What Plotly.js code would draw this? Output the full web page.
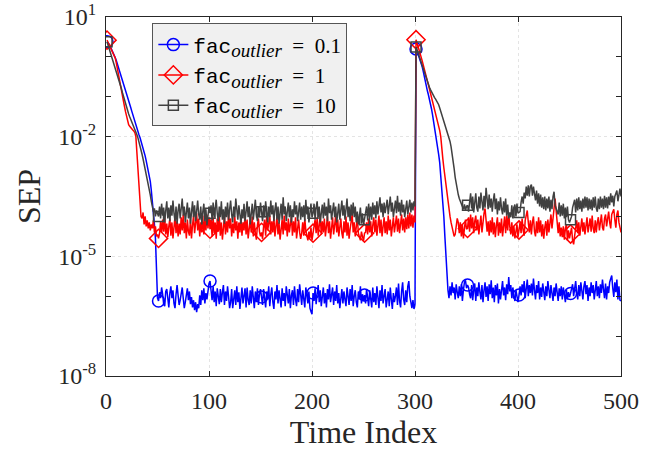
<!DOCTYPE html>
<html>
<head>
<meta charset="utf-8">
<script src="https://cdn.plot.ly/plotly-3.0.1.min.js"></script>
<style>html,body{margin:0;padding:0;background:#fff;}#chart{width:659px;height:450px;}</style>
</head>
<body>
<div id="chart"></div>
<script>
// Series values stored as log10(SEP), time index 1..500
const blueLogSEP = [
0.38,0.36,0.32,0.27,0.22,0.16,0.10,0.04,-0.02,-0.09,
-0.17,-0.25,-0.33,-0.42,-0.50,-0.58,-0.66,-0.74,-0.82,-0.92,
-1.0,-1.08,-1.17,-1.27,-1.36,-1.45,-1.55,-1.64,-1.72,-1.80,
-1.88,-1.95,-2.02,-2.10,-2.18,-2.28,-2.38,-2.48,-2.60,-2.72,
-2.85,-2.98,-3.12,-3.35,-3.6,-3.88,-4.2,-4.55,-5.3,-6.05,
-6.12,-5.9,-6.05,-5.78,-5.95,-6.2,-6.25,-5.88,-5.82,-6.15,
-6.28,-5.92,-5.75,-6.05,-5.85,-6.18,-6.3,-5.95,-5.72,-5.98,
-6.22,-6.1,-5.85,-5.78,-6.05,-6.3,-6.15,-5.9,-5.8,-6.1,
-5.88,-6.2,-6.02,-6.28,-6.1,-6.35,-6.15,-6.4,-6.2,-6.3,
-5.98,-6.22,-5.85,-6.1,-5.8,-6.18,-5.92,-6.08,-5.78,-5.68,
-5.62,-5.8,-6.1,-5.75,-6.15,-5.88,-6.25,-5.8,-5.95,-6.2,
-5.82,-6.15,-5.9,-5.72,-6.22,-5.88,-6.12,-5.75,-6.0,-6.3,
-6.15,-5.82,-6.3,-5.98,-5.85,-6.22,-5.75,-6.15,-5.9,-6.32,
-6.05,-5.78,-6.18,-5.98,-5.8,-6.28,-5.78,-6.1,-6.22,-5.85,
-6.18,-5.75,-6.05,-6.3,-5.88,-6.15,-5.8,-6.22,-5.95,-5.82,
-6.02,-6.22,-5.82,-6.12,-6.28,-5.88,-6.08,-5.75,-6.25,-5.95,
-5.78,-6.15,-6.32,-5.88,-6.08,-5.72,-6.18,-5.85,-6.02,-6.28,
-5.8,-6.12,-5.92,-6.25,-5.75,-6.02,-6.18,-5.82,-6.3,-5.98,
-5.85,-6.22,-5.75,-6.08,-6.25,-5.82,-6.15,-5.7,-6.0,-6.22,
-5.85,-6.08,-6.28,-5.78,-6.02,-6.18,-5.88,-6.3,-6.38,-6.45,
-5.92,-6.12,-5.8,-6.2,-5.95,-5.72,-6.15,-5.85,-6.25,-5.98,
-5.78,-6.18,-5.92,-6.28,-5.82,-6.08,-5.7,-6.15,-6.0,-5.78,
-6.22,-5.88,-6.12,-5.72,-6.18,-5.92,-6.3,-6.0,-5.82,-6.18,
-5.88,-6.08,-6.25,-5.78,-6.02,-6.22,-5.82,-6.12,-5.72,-6.25,
-6.0,-5.85,-6.15,-6.28,-5.88,-6.08,-5.75,-6.18,-5.95,-6.12,
-5.97,-6.18,-5.82,-6.08,-6.25,-5.85,-6.02,-6.28,-5.78,-6.15,
-5.92,-6.22,-5.75,-6.08,-6.3,-5.85,-6.12,-5.72,-6.18,-6.0,
-5.82,-6.28,-6.08,-5.88,-6.25,-5.78,-6.08,-6.32,-5.92,-6.15,
-6.0,-5.78,-6.22,-5.68,-6.12,-6.28,-5.88,-5.65,-6.08,-6.22,
-5.85,-6.15,-5.75,-5.62,-6.0,-6.18,-6.3,-6.1,-6.32,-6.2,
0.2,0.15,0.08,0.0,-0.08,-0.16,-0.25,-0.36,-0.5,-0.65,
-0.75,-0.85,-0.95,-1.05,-1.15,-1.3,-1.45,-1.6,-1.75,-1.9,
-2.05,-2.25,-2.45,-2.65,-2.95,-3.3,-3.65,-4.0,-4.5,-5.0,
-5.5,-5.85,
-6.05,-5.75,-5.98,-5.65,-5.92,-5.78,-6.08,-5.7,-5.9,-6.05,
-5.75,-6.0,-5.7,-6.12,-5.85,-5.65,-5.6,-5.8,-5.72,-5.78,
-5.95,-6.05,-5.72,-6.1,-5.85,-5.68,-6.12,-5.78,-6.0,-5.65,
-5.9,-6.08,-5.72,-6.15,-5.85,-5.65,-6.02,-5.75,-6.12,-5.7,
-5.95,-5.6,-6.05,-5.78,-6.15,-5.72,-5.98,-5.68,-6.18,-5.82,
-6.08,-5.75,-5.62,-5.98,-5.78,-6.1,-5.7,-5.95,-5.52,-5.88,
-5.72,-6.05,-5.78,-5.98,-6.12,-5.85,-6.05,-6.15,-5.97,-5.75,
-5.98,-5.7,-5.9,-5.62,-6.05,-5.78,-5.58,-6.0,-5.72,-5.92,
-5.68,-5.98,-5.56,-5.85,-6.08,-5.72,-5.92,-5.62,-6.08,-5.78,
-6.02,-5.68,-5.9,-6.1,-5.75,-6.0,-5.62,-5.88,-6.05,-5.72,
-5.92,-6.12,-5.78,-6.0,-5.68,-5.95,-6.12,-5.8,-6.0,-5.75,
-6.08,-5.78,-6.0,-6.15,-5.84,-6.08,-5.9,-6.02,-5.93,-5.82,
-5.7,-6.0,-5.78,-5.62,-5.92,-6.08,-5.72,-6.0,-5.65,-5.9,
-6.08,-5.75,-5.62,-5.95,-5.72,-6.12,-5.78,-6.0,-5.65,-5.92,
-5.72,-6.08,-5.8,-5.62,-6.0,-5.75,-6.05,-5.7,-5.92,-5.58,
-5.82,-6.05,-5.68,-6.08,-5.75,-5.92,-5.65,-5.55,-5.48,-5.8,
-6.02,-5.65,-5.9,-5.58,-6.08,-5.75,-6.1,-6.12
];

const redLogSEP = [
0.42,0.36,0.3,0.25,0.2,0.14,0.08,0.03,-0.03,-0.15,
-0.3,-0.45,-0.6,-0.75,-0.88,-1.0,-1.12,-1.25,-1.38,-1.5,
-1.62,-1.7,-1.74,-1.78,-1.8,-1.83,-1.86,-1.9,-2.0,-2.4,
-2.9,-3.35,-3.75,-4.0,-4.05,-3.9,-4.2,-4.0,-4.25,-4.1,
-4.3,-4.15,-4.35,-4.2,-4.3,-4.1,-4.4,-4.25,-4.5,-4.45,
-4.55,-4.42,-4.12,-4.4,-4.08,-4.38,-4.02,-4.45,-4.18,-4.52,
-4.25,-4.05,-4.48,-4.15,-4.55,-4.3,-4.0,-4.42,-4.12,-4.5,
-4.18,-4.45,-4.02,-4.35,-3.95,-4.42,-4.15,-4.55,-4.08,-4.38,
-4.48,-4.08,-4.55,-4.22,-3.98,-4.42,-4.15,-3.92,-4.35,-4.05,
-4.5,-4.15,-4.4,-3.98,-4.45,-4.1,-4.35,-3.95,-4.3,-4.02,
-4.32,-4.08,-4.5,-4.02,-4.42,-4.15,-4.56,-4.05,-4.38,-3.98,
-4.48,-4.15,-4.58,-4.22,-4.0,-4.45,-4.12,-4.4,-3.92,-4.3,
-4.05,-4.5,-4.18,-4.42,-4.0,-4.35,-4.12,-4.56,-4.15,-4.4,
-4.02,-4.48,-4.15,-4.35,-3.98,-4.45,-4.08,-4.55,-4.22,-4.08,
-4.4,-4.0,-4.5,-4.15,-4.42,-4.58,-4.22,-4.05,-4.38,-4.5,
-4.4,-4.56,-4.25,-4.08,-4.48,-4.0,-4.35,-4.15,-3.98,-4.45,
-4.12,-4.4,-4.02,-4.5,-4.22,-4.0,-4.45,-4.15,-4.58,-4.3,
-4.08,-4.45,-3.98,-4.35,-4.15,-4.5,-4.05,-4.4,-4.22,-4.0,
-4.48,-4.12,-4.4,-4.02,-4.55,-4.22,-4.08,-4.4,-4.56,-4.42,
-4.15,-4.48,-4.05,-4.35,-4.5,-4.6,-4.38,-4.55,-4.28,-4.6,
-4.42,-4.28,-4.08,-4.42,-4.02,-4.48,-4.18,-3.98,-4.45,-4.12,
-4.4,-4.05,-4.5,-4.22,-4.0,-4.42,-4.12,-4.56,-4.3,-4.02,
-4.45,-4.15,-3.98,-4.4,-4.08,-4.5,-4.25,-4.05,-4.42,-4.55,
-4.12,-4.4,-4.0,-4.48,-4.15,-4.56,-4.32,-4.08,-3.95,-4.4,
-4.15,-4.5,-4.28,-4.02,-4.42,-4.55,-4.6,-4.38,-4.56,-4.62,
-4.42,-4.4,-4.15,-4.45,-4.05,-4.4,-4.12,-4.5,-4.22,-4.02,
-4.4,-4.08,-4.48,-4.15,-3.98,-4.42,-4.08,-4.5,-4.22,-4.02,
-4.42,-4.12,-4.45,-3.98,-4.35,-4.08,-4.5,-4.18,-4.02,-4.4,
-4.15,-3.98,-4.38,-4.05,-4.42,-4.12,-3.95,-4.35,-4.05,-4.4,
-4.02,-4.32,-3.95,-4.3,-3.9,-4.25,-3.95,-4.28,-3.98,-4.15,
0.43,0.35,0.27,0.18,0.09,0.0,-0.1,-0.2,-0.32,-0.44,
-0.52,-0.6,-0.7,-0.8,-0.92,-1.03,-1.12,-1.22,-1.32,-1.42,
-1.52,-1.62,-1.72,-1.85,-2.0,-2.35,-2.55,-2.78,-3.0,-3.25,
-3.45,-3.65,-3.85,-4.0,-4.15,-4.25,-4.4,-4.5,-4.45,-4.2,
-4.05,-4.15,
-4.42,-4.15,-4.5,-4.2,-4.55,-4.3,-4.08,-4.32,-4.3,-4.02,
-4.38,-3.95,-4.3,-4.02,-4.42,-4.12,-3.98,-4.35,-4.08,-4.45,
-4.18,-3.98,-4.4,-4.08,-3.92,-3.8,-4.05,-4.38,-4.12,-4.48,
-4.1,-4.4,-4.02,-4.45,-4.15,-4.52,-4.22,-4.02,-4.48,-4.15,
-4.42,-4.05,-4.5,-4.2,-4.0,-4.42,-3.98,-4.35,-3.92,-4.25,
-4.45,-4.15,-4.5,-4.25,-4.55,-4.38,-4.2,-4.52,-4.34,-4.15,
-4.42,-4.05,-4.35,-4.48,-4.1,-3.98,-3.85,-4.15,-4.4,-4.1,
-4.45,-4.15,-4.0,-4.38,-4.5,-4.12,-4.42,-4.02,-4.4,-4.1,
-4.5,-4.2,-4.56,-4.28,-4.12,-4.48,-4.08,-4.4,-4.05,-3.95,
-4.3,-4.0,-3.8,-3.55,-3.85,-4.15,-4.42,-4.15,-4.5,-4.28,
-4.52,-4.25,-4.58,-4.3,-4.2,-4.6,-4.35,-4.55,-4.44,-4.28,
-4.6,-4.7,-4.48,-4.28,-4.1,-4.42,-4.15,-4.48,-4.2,-4.05,
-4.38,-4.15,-4.45,-4.2,-4.02,-4.4,-4.18,-4.05,-4.38,-3.98,
-4.3,-4.42,-4.1,-4.4,-4.15,-4.02,-4.35,-4.12,-3.95,-4.28,
-4.35,-4.05,-3.95,-4.25,-4.0,-3.88,-4.15,-4.3,-3.95,-3.9,
-3.82,-4.08,-4.28,-3.95,-3.85,-4.15,-4.32,-4.4
];

const grayLogSEP = [
0.38,0.3,0.22,0.14,0.06,-0.02,-0.1,-0.18,-0.26,-0.35,
-0.44,-0.53,-0.62,-0.71,-0.8,-0.9,-1.0,-1.08,-1.18,-1.28,
-1.36,-1.43,-1.5,-1.56,-1.62,-1.68,-1.74,-1.8,-1.87,-1.95,
-2.03,-2.12,-2.22,-2.33,-2.44,-2.56,-2.68,-2.8,-2.93,-3.05,
-3.18,-3.32,-3.46,-3.62,-3.76,-3.88,-3.8,-4.0,-3.85,-3.95,
-4.0,-3.75,-4.05,-3.68,-3.98,-3.78,-4.15,-3.85,-3.62,-4.05,
-3.78,-4.12,-3.72,-3.98,-3.6,-3.92,-4.12,-3.75,-4.18,-3.85,
-3.68,-4.05,-3.82,-3.55,-3.98,-3.75,-4.15,-3.88,-3.65,-4.05,
-3.78,-4.18,-3.88,-3.62,-4.02,-3.72,-4.12,-3.82,-3.6,-3.95,
-4.08,-3.75,-4.2,-3.88,-3.68,-4.12,-3.82,-4.22,-3.95,-3.75,
-3.92,-3.72,-4.1,-3.65,-4.02,-3.82,-3.58,-3.92,-4.12,-3.75,
-4.02,-3.62,-4.08,-3.82,-4.18,-3.75,-4.02,-3.65,-4.08,-3.82,
-3.6,-3.95,-4.15,-3.75,-4.02,-3.55,-3.88,-4.08,-3.72,-3.98,
-4.18,-3.82,-4.05,-3.68,-4.12,-3.88,-3.62,-4.02,-3.75,-4.2,
-3.88,-3.68,-4.08,-3.82,-3.58,-3.95,-4.12,-3.75,-4.02,-3.65,
-3.88,-4.12,-3.72,-4.02,-3.62,-3.92,-4.15,-3.75,-4.02,-3.6,
-3.95,-3.72,-4.12,-3.82,-3.65,-4.08,-3.75,-4.18,-3.88,-3.68,
-4.08,-3.52,-3.95,-3.75,-4.12,-3.82,-3.65,-4.02,-3.72,-4.15,
-3.82,-4.02,-3.62,-3.95,-3.72,-4.12,-3.82,-3.65,-4.08,-3.75,
-4.02,-3.72,-4.12,-3.58,-3.95,-3.75,-4.15,-3.88,-3.68,-4.02,
-3.92,-3.68,-4.08,-3.78,-3.62,-4.02,-3.75,-4.15,-3.88,-3.7,
-4.05,-3.65,-3.98,-3.75,-4.12,-3.55,-3.92,-3.72,-4.08,-3.82,
-3.65,-4.02,-3.75,-4.15,-3.88,-3.68,-4.08,-3.82,-3.6,-3.98,
-3.72,-4.08,-3.82,-3.55,-4.02,-3.75,-4.12,-3.7,-3.98,-3.65,
-4.02,-3.75,-4.15,-3.88,-4.2,-3.98,-3.78,-4.18,-3.92,-4.22,
-4.08,-3.85,-3.75,-4.1,-3.68,-4.02,-3.75,-4.08,-3.65,-3.95,
-3.72,-4.05,-3.62,-3.95,-3.75,-3.52,-3.9,-3.68,-4.02,-3.65,
-3.92,-3.7,-3.58,-3.95,-3.68,-3.5,-3.88,-3.65,-4.02,-3.72,
-3.6,-3.92,-3.48,-3.88,-3.65,-3.98,-3.58,-3.9,-3.7,-4.02,
-3.75,-3.6,-3.95,-3.7,-3.58,-3.9,-3.65,-3.85,-3.62,-3.75,
0.25,0.18,0.1,0.02,-0.06,-0.14,-0.22,-0.32,-0.42,-0.5,
-0.58,-0.64,-0.7,-0.76,-0.82,-0.88,-0.93,-0.98,-1.02,-1.06,
-1.1,-1.14,-1.2,-1.28,-1.36,-1.44,-1.52,-1.6,-1.68,-1.76,
-1.84,-1.92,-2.0,-2.12,-2.25,-2.4,-2.58,-2.8,-3.02,-3.2,
-3.35,-3.45,-3.55,-3.62,-3.7,-3.78,-3.82,-3.7,-3.85,-3.75,
-3.72,
-3.88,-3.55,-3.42,-3.8,-3.5,-3.9,-3.62,-3.42,-3.78,-3.88,
-3.5,-3.8,-3.4,-3.75,-3.85,-3.48,-3.78,-3.28,-3.52,-3.82,
-3.45,-3.78,-3.55,-3.88,-3.6,-3.42,-3.82,-3.55,-3.95,-3.62,
-3.85,-3.52,-3.8,-3.95,-3.62,-3.9,-3.55,-3.98,-3.7,-4.05,
-3.9,-4.02,-3.72,-4.05,-3.78,-3.7,-4.0,-3.68,-3.92,-3.9,
-3.88,-3.65,-3.5,-3.68,-3.4,-3.55,-3.25,-3.48,-3.22,-3.5,
-3.25,-3.2,-3.48,-3.25,-3.52,-3.6,-3.35,-3.68,-3.42,-3.75,
-3.45,-3.78,-3.52,-3.82,-3.5,-3.85,-3.55,-3.8,-3.5,-3.88,
-3.58,-3.82,-3.5,-3.38,-3.72,-3.8,-3.88,-3.95,-3.65,-4.0,
-3.72,-3.98,-3.68,-4.05,-3.78,-4.02,-3.75,-4.08,-4.15,-4.08,
-4.0,-3.78,-3.7,-3.58,-3.9,-3.55,-3.85,-3.52,-3.82,-3.6,
-3.88,-3.55,-3.8,-3.5,-3.78,-3.52,-3.85,-3.55,-3.82,-3.58,
-3.85,-3.52,-3.78,-3.5,-3.8,-3.88,-3.55,-3.82,-3.5,-3.78,
-3.55,-3.82,-3.48,-3.78,-3.52,-3.8,-3.5,-3.72,-3.42,-3.65,
-3.48,-3.75,-3.5,-3.4,-3.35,-3.62,-3.38,-3.3,-3.5
];

const facLabel = '<span style="font-family:Liberation Mono">fac</span><sub><span style="font-size:19px"><i>outlier</i></span></sub>';
const seriesNames = [
  facLabel + '&nbsp;&nbsp;=&nbsp;&nbsp;0.1',
  facLabel + '&nbsp;&nbsp;=&nbsp;&nbsp;1',
  facLabel + '&nbsp;&nbsp;=&nbsp;&nbsp;10'
];
const xTickVals = [0, 100, 200, 300, 400, 500];
const yTickVals = [1e-8, 1e-5, 1e-2, 1e1];
const yTickText = ['10<sup>-8</sup>', '10<sup>-5</sup>', '10<sup>-2</sup>', '10<sup>1</sup>'];
const yMinorVals = [1e-7, 1e-6, 1e-4, 1e-3, 1e-1, 1e0];

const timeIndex = blueLogSEP.map((_, i) => i + 1);
const toSEP = arr => arr.map(v => Math.pow(10, v));
const markerEvery = 50;

const colors = ['#0000ff', '#ff0000', '#404040'];
const symbols = ['circle-open', 'diamond-open', 'square-open'];
const sizes = [12, 14, 10];
const logSeries = [blueLogSEP, redLogSEP, grayLogSEP];

const traces = logSeries.map((s, k) => ({
  x: timeIndex,
  y: toSEP(s),
  type: 'scatter',
  mode: 'lines+markers',
  name: seriesNames[k],
  line: {color: colors[k], width: 1.5},
  marker: {
    symbol: symbols[k],
    size: sizes[k],
    color: s.map((_, i) => (i % markerEvery === 0 ? colors[k] : 'rgba(0,0,0,0)')),
    line: {width: 1.5}
  },
  hoverinfo: 'skip'
}));

const axisColor = '#262626';
const tickFont = {family: 'Liberation Serif, Times New Roman, serif', size: 24, color: axisColor};

const layout = {
  width: 659, height: 450,
  margin: {l: 106, r: 38, t: 17, b: 74, pad: 0},
  paper_bgcolor: '#ffffff',
  plot_bgcolor: '#ffffff',
  showlegend: true,
  legend: {
    x: 0.09, y: 0.982, xanchor: 'left', yanchor: 'top',
    bgcolor: '#f0f0f0', bordercolor: '#555555', borderwidth: 1,
    font: {family: 'Liberation Serif, serif', size: 21, color: '#000'},
    itemwidth: 30, tracegroupgap: 0
  },
  xaxis: {
    range: [0, 500],
    tickvals: xTickVals,
    ticktext: xTickVals.map(String),
    ticks: 'inside', ticklen: 5, tickcolor: axisColor, tickwidth: 1,
    showline: true, linecolor: axisColor, linewidth: 1, mirror: 'ticks',
    showgrid: true, gridcolor: '#e4e4e4', griddash: 'dot', gridwidth: 1,
    zeroline: false,
    tickfont: tickFont,
    ticklabelstandoff: 3,
    title: {text: 'Time Index', font: {family: 'Liberation Serif, serif', size: 32, color: axisColor}, standoff: 10}
  },
  yaxis: {
    type: 'log',
    range: [-8, 1],
    tickvals: yTickVals,
    ticktext: yTickText,
    ticks: 'inside', ticklen: 5, tickcolor: axisColor, tickwidth: 1,
    showline: true, linecolor: axisColor, linewidth: 1, mirror: 'ticks',
    showgrid: true, gridcolor: '#e4e4e4', griddash: 'dot', gridwidth: 1,
    zeroline: false,
    tickfont: tickFont,
    ticklabelstandoff: 4,
    minor: {tickvals: yMinorVals, ticks: 'inside', ticklen: 5, tickcolor: axisColor, showgrid: false},
    title: {text: 'SEP', font: {family: 'Liberation Serif, serif', size: 32, color: axisColor}, standoff: 8}
  }
};

Plotly.newPlot('chart', traces, layout, {displayModeBar: false, staticPlot: true});
</script>
</body>
</html>
